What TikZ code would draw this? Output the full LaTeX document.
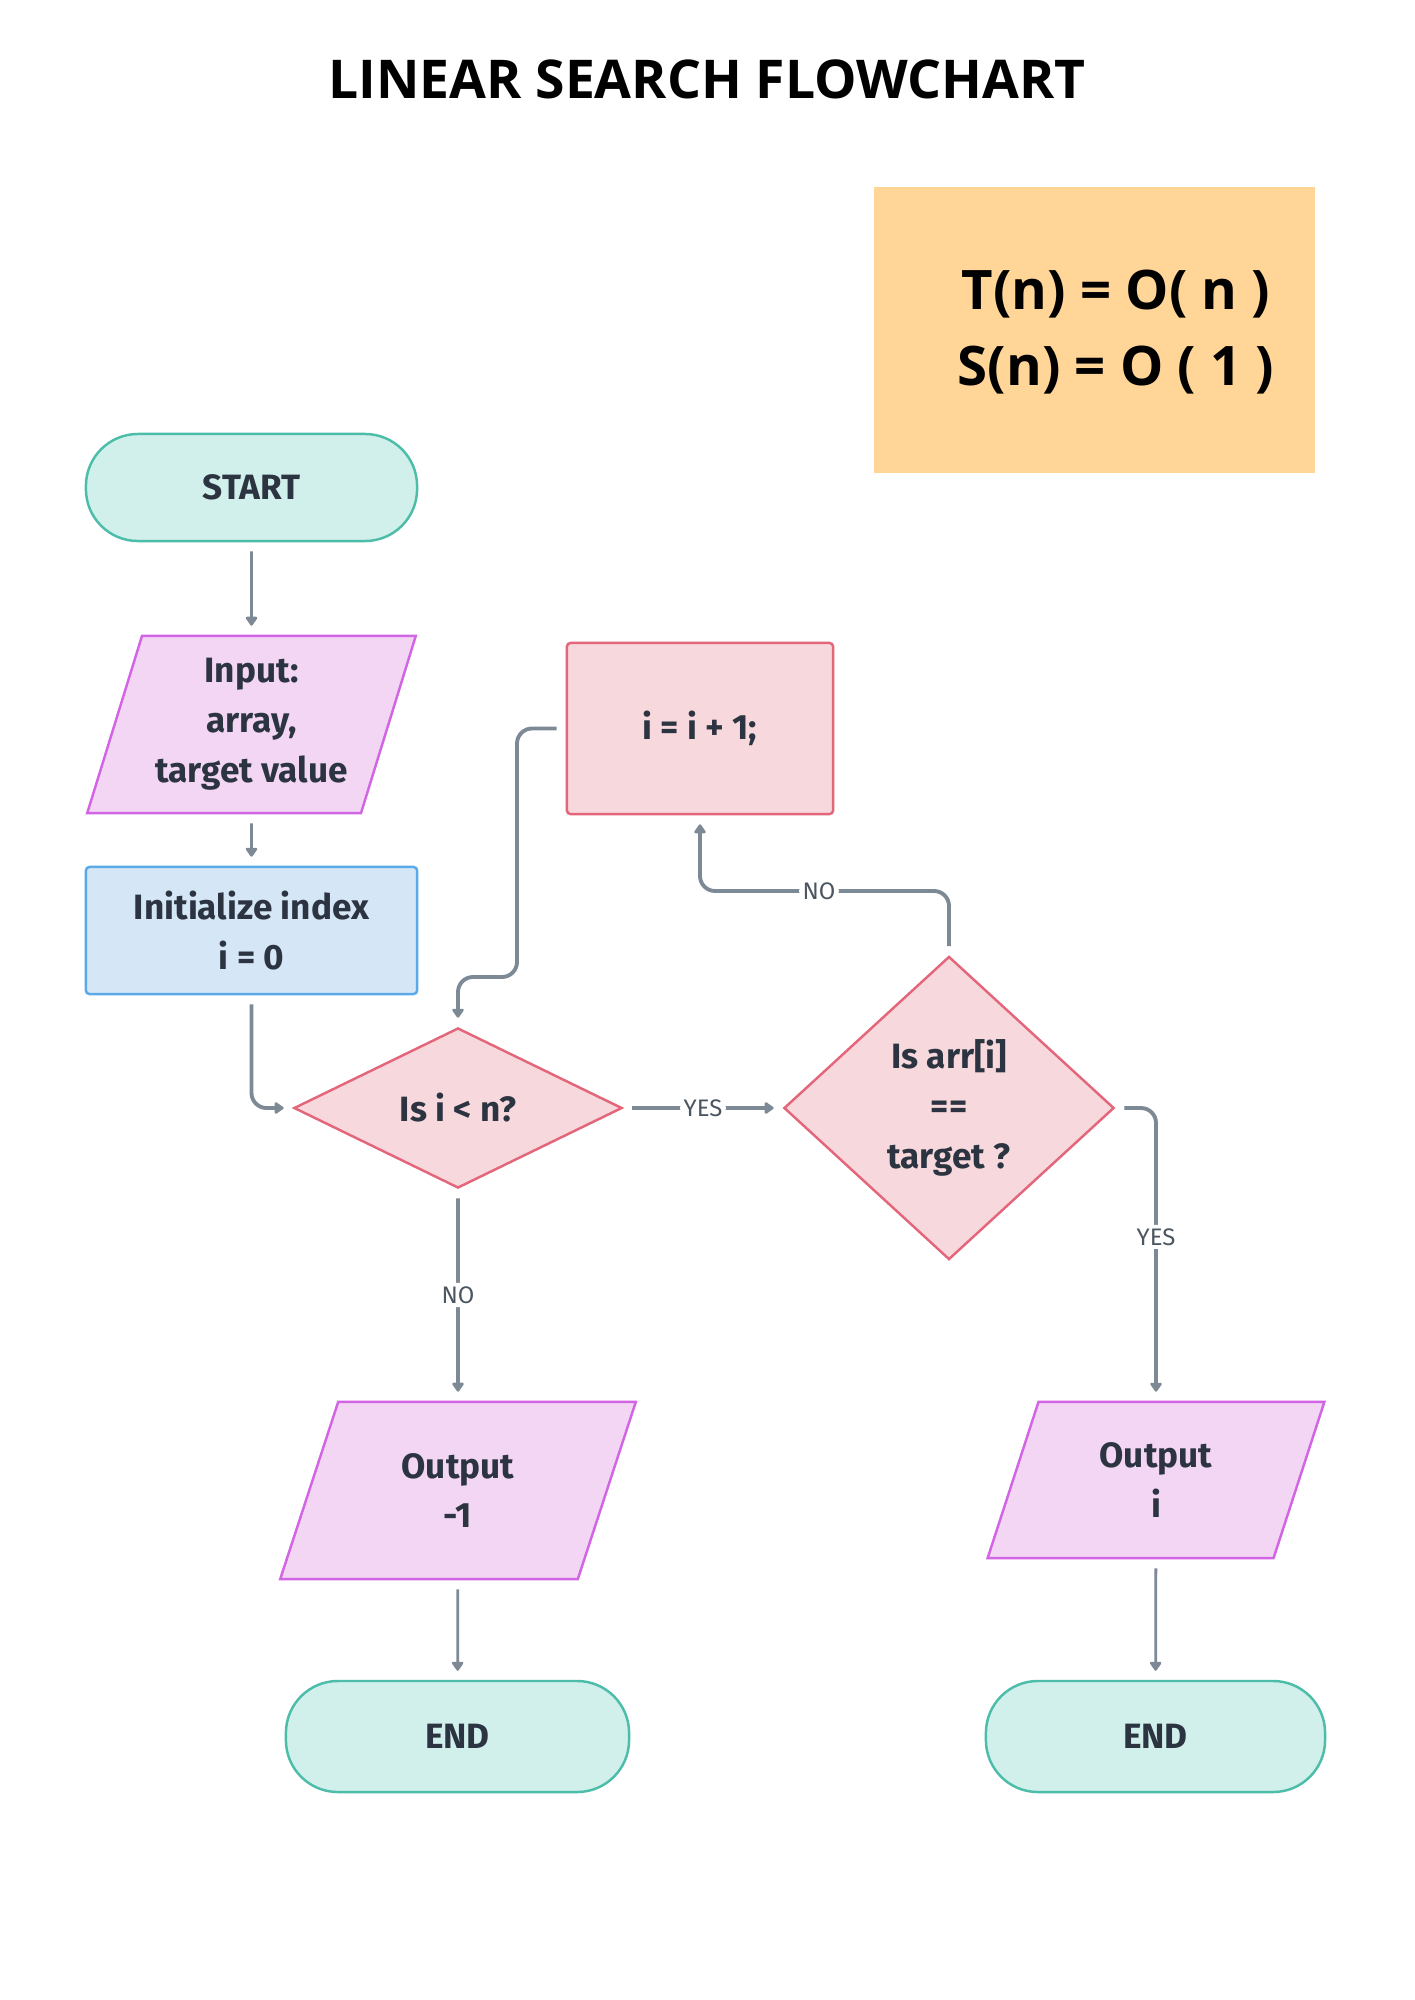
\documentclass[tikz,border=0pt]{standalone}
\usepackage{fontspec}
\setmainfont{Fira Sans}
\newfontfamily\headfont{Open Sans}
\usetikzlibrary{shapes.geometric,arrows.meta}
\definecolor{termfill}{HTML}{D1EFEB}
\definecolor{termline}{HTML}{4CBDA9}
\definecolor{iofill}{HTML}{F2D6F4}
\definecolor{ioline}{HTML}{D265E3}
\definecolor{initfill}{HTML}{D5E6F6}
\definecolor{initline}{HTML}{5CA9EA}
\definecolor{pinkfill}{HTML}{F7D9DD}
\definecolor{pinkline}{HTML}{E3667A}
\definecolor{costfill}{HTML}{FFD598}
\definecolor{inktext}{HTML}{2B3440}
\definecolor{flowgray}{HTML}{7D8A96}
\definecolor{labeltext}{HTML}{4B5661}

\begin{document}
\begin{tikzpicture}[x=0.01cm,y=-0.01cm,
                every node/.style={text=inktext, align=center, font=\fontsize{10}{14.2}\selectfont\bfseries},
                terminal/.style={draw=termline, fill=termfill, line width=0.7pt, rounded corners=0.52cm, minimum width=3.31cm, minimum height=1.07cm},
                io/.style={trapezium, trapezium left angle=70, trapezium right angle=110, trapezium stretches=true, draw=ioline, fill=iofill, line width=0.7pt, inner sep=0pt},
                process/.style={draw=pinkline, fill=pinkfill, line width=0.7pt, rounded corners=1pt},
                decision/.style={diamond, draw=pinkline, fill=pinkfill, line width=0.7pt, inner sep=0pt},
                flow/.style={draw=flowgray, line width=0.8pt, -{Triangle[round,length=1mm,width=1.3mm]}, shorten <=0.09cm, shorten >=0.09cm},
                flowthick/.style={flow, line width=1.1pt, rounded corners=0.15cm},
                flowlabel/.style={fill=white, text=labeltext, inner sep=1pt, font=\fontsize{6.8}{7}\selectfont}]
                \useasboundingbox (0,0) rectangle (1414,2000);
                \node[font=\headfont\fontsize{15.2}{18}\selectfont\bfseries, text=black] (title) at (707,79) {LINEAR SEARCH FLOWCHART};
                \node[fill=costfill, minimum width=4.41cm, minimum height=2.86cm] (cost) at (1094.5,330) {};
                \node[font=\headfont\fontsize{15.5}{21.5}\selectfont\bfseries, text=black] (costtext) at (1116,332) {T(n) = O( n )\\S(n) = O ( 1 )};

                \node[terminal] (start) at (251.5,487.5) {START};
                \node[io, minimum width=3.31cm, minimum height=1.77cm] (input) at (251.5,724.5) {Input:\\array,\\target value};
                \node[draw=initline, fill=initfill, line width=0.7pt, rounded corners=1pt, minimum width=3.31cm, minimum height=1.27cm] (init) at (251.5,930.5) {Initialize index\\i = 0};
                \node[process, minimum width=2.66cm, minimum height=1.71cm] (inc) at (700,728.5) {i = i + 1;};
                \node[decision, minimum width=3.28cm, minimum height=1.6cm] (d1) at (458,1108) {Is i < n?};
                \node[decision, minimum width=3.3cm, minimum height=3.03cm] (d2) at (949,1108) {Is arr[i]\\==\\target ?};
                \node[io, minimum width=3.56cm, minimum height=1.77cm] (outm) at (458,1490.5) {Output\\-1};
                \node[io, trapezium left angle=72, trapezium right angle=108, minimum width=3.38cm, minimum height=1.56cm] (outi) at (1156,1480) {Output\\i};
                \node[terminal, minimum width=3.43cm, minimum height=1.11cm] (end1) at (457.5,1736.5) {END};
                \node[terminal, minimum width=3.39cm, minimum height=1.11cm] (end2) at (1155.5,1736.5) {END};

                \coordinate (loopbend) at (517,977);
                \coordinate (nobend) at (819,891);

                \draw[flow] (start) -- (input);
                \draw[flow] (input) -- (init);
                \draw[flowthick] (init) |- (d1);
                \draw[flowthick] (inc.west) -| (loopbend) -| (d1.north);
                \draw[flowthick] (d1) -- node[flowlabel] {YES} (d2);
                \draw[flowthick] (d2.north) |- (nobend) node[flowlabel] {NO} -| (inc.south);
                \draw[flowthick] (d2.east) -| node[flowlabel, pos=.72] {YES} (outi.north);
                \draw[flowthick] (d1.south) -- node[flowlabel] {NO} (outm.north);
                \draw[flow] (outm) -- (end1);
                \draw[flow] (outi) -- (end2);
            \end{tikzpicture}
\end{document}
